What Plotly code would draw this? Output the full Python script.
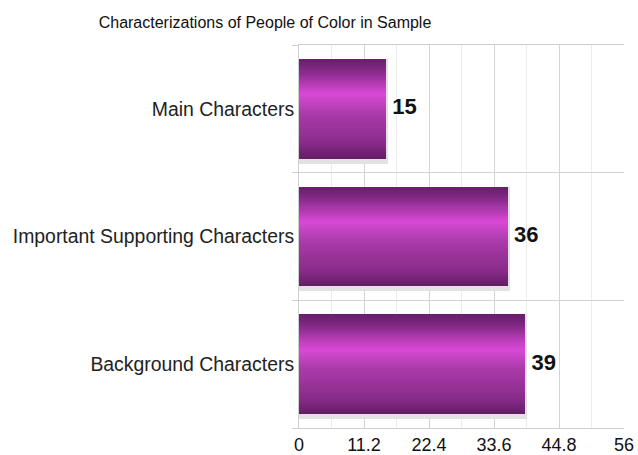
import plotly.graph_objects as go

# Data
categories = ["Main Characters", "Important Supporting Characters", "Background Characters"]
values = [15, 36, 39]
x_tick_values = [0, 11.2, 22.4, 33.6, 44.8, 56]
x_tick_labels = ["0", "11.2", "22.4", "33.6", "44.8", "56"]

title_text = "Characterizations of People of Color in Sample"

# bottom-to-top ordering on the category axis
cat_order = list(reversed(categories))

BAR_W = 0.78
N = 48

# gradient stops: fraction from top -> colour
stops = [(0.0, (0x66, 0x1e, 0x68)), (0.12, (0x85, 0x2a, 0x88)), (0.35, (0xd9, 0x4a, 0xd7)),
         (0.55, (0xaa, 0x3b, 0xa9)), (0.85, (0x88, 0x2b, 0x89)), (1.0, (0x64, 0x1c, 0x66))]


def grad(f):
    for (f0, c0), (f1, c1) in zip(stops[:-1], stops[1:]):
        if f0 <= f <= f1:
            t = (f - f0) / (f1 - f0) if f1 > f0 else 0
            c = [round(a + (b - a) * t) for a, b in zip(c0, c1)]
            return "rgb(%d,%d,%d)" % tuple(c)
    return "rgb(%d,%d,%d)" % stops[-1][1]


fig = go.Figure()

# shadow
fig.add_trace(go.Bar(
    y=categories, x=values, orientation="h",
    width=BAR_W, offset=-BAR_W / 2 - 0.025,
    marker=dict(color="#d6d6d6", line=dict(color="#e2e2e2", width=5)),
    hoverinfo="skip", showlegend=False,
))

sw = BAR_W / N
for i in range(N):
    f_top = 1 - (i + 0.5) / N
    fig.add_trace(go.Bar(
        y=categories, x=values, orientation="h",
        width=sw * 1.05, offset=-BAR_W / 2 + i * sw,
        marker=dict(color=grad(f_top), line=dict(width=0)),
        hoverinfo="skip", showlegend=False,
    ))

fig.add_trace(go.Scatter(
    y=categories, x=values, mode="text",
    text=[" <b>%d</b>" % v for v in values], textposition="middle right",
    textfont=dict(family="Liberation Sans, Arial, sans-serif", size=22, color="#111"),
    hoverinfo="skip", showlegend=False,
))

fig.update_layout(
    width=638, height=455,
    margin=dict(l=299, r=14, t=45, b=27, autoexpand=False),
    paper_bgcolor="white", plot_bgcolor="white",
    barmode="overlay", bargap=0,
    font=dict(family="Liberation Sans, Arial, sans-serif", color="#222"),
    title=dict(text=title_text, x=265 / 638, xanchor="center", y=1 - 22 / 455, yanchor="middle",
               xref="container", yref="container",
               font=dict(size=16, color="#111")),
    xaxis=dict(
        range=[0, 56], tickvals=x_tick_values, ticktext=x_tick_labels,
        showgrid=True, gridcolor="#d4d4d4", gridwidth=1,
        minor=dict(tickvals=[5.6, 16.8, 28.0, 39.2, 50.4], showgrid=True, gridcolor="#ececec"),
        zeroline=False, showline=True, linecolor="#cfcfcf", mirror=True,
        tickfont=dict(size=18, color="#111"), ticks="", automargin=False,
    ),
    yaxis=dict(
        categoryorder="array", categoryarray=cat_order,
        range=[-0.5, 2.5],
        tickson="boundaries", ticks="outside", ticklen=6, tickcolor="#cfcfcf",
        showgrid=True, gridcolor="#d4d4d4",
        showline=True, linecolor="#cfcfcf", zeroline=False,
        tickfont=dict(size=19.4, color="#222"), automargin=False,
    ),
)

fig.write_html("out.html")
